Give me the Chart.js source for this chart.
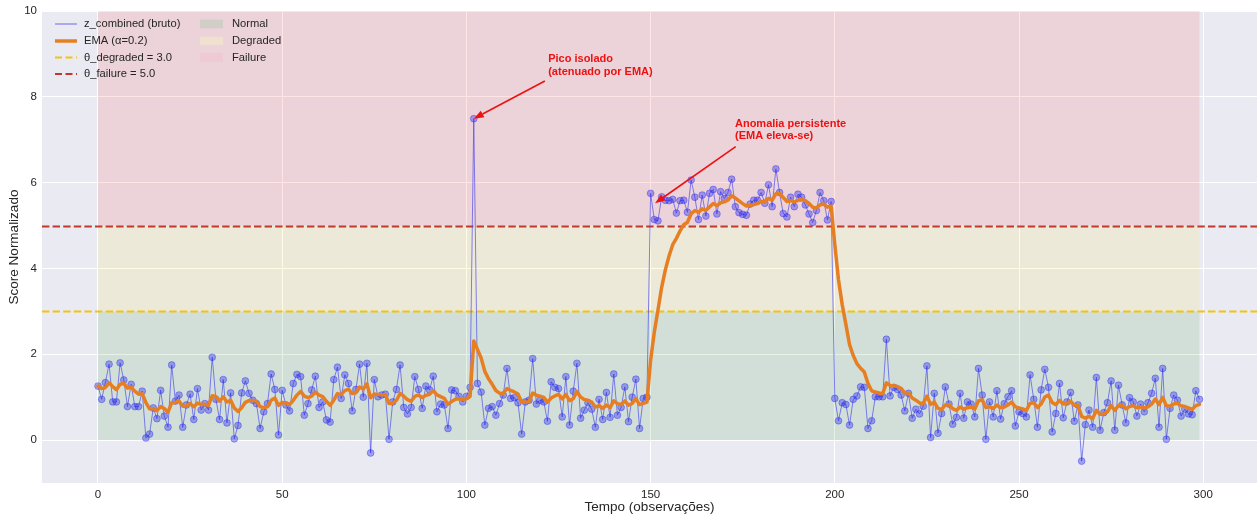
<!DOCTYPE html>
<html>
<head>
<meta charset="utf-8">
<script src="https://cdn.jsdelivr.net/npm/chart.js@4.4.1/dist/chart.umd.min.js"></script>
<style>
  html, body { margin: 0; padding: 0; background: #ffffff; }
  canvas { display: block; }
</style>
</head>
<body>
<canvas id="chart" width="1257" height="516"></canvas>
<script>
// Raw combined score per observation (t = 0 .. 299)
const rawScore = [
  1.26, 0.95, 1.34, 1.77, 0.89, 0.89, 1.80, 1.40, 0.78, 1.30, 0.78, 0.78, 1.14, 0.05, 0.14, 0.75, 0.50, 1.16, 0.56, 0.30,
  1.75, 0.91, 1.05, 0.30, 0.82, 1.07, 0.48, 1.20, 0.70, 0.85, 0.70, 1.93, 0.95, 0.48, 1.41, 0.40, 1.10, 0.03, 0.34, 1.10,
  1.38, 1.09, 0.93, 0.85, 0.27, 0.66, 0.85, 1.54, 1.18, 0.12, 1.16, 0.82, 0.68, 1.32, 1.53, 1.48, 0.58, 0.85, 1.17, 1.49,
  0.76, 0.89, 0.47, 0.42, 1.41, 1.70, 0.97, 1.52, 1.32, 0.68, 1.18, 1.77, 1.00, 1.79, -0.30, 1.41, 1.01, 1.05, 1.07, 0.02,
  0.89, 1.18, 1.75, 0.76, 0.61, 0.76, 1.48, 1.18, 0.74, 1.26, 1.17, 1.49, 0.66, 0.84, 0.82, 0.27, 1.17, 1.15, 1.02, 0.89,
  1.02, 1.23, 7.49, 1.32, 1.12, 0.35, 0.74, 0.78, 0.58, 0.85, 1.05, 1.67, 0.97, 0.99, 0.87, 0.14, 0.89, 0.93, 1.90, 0.84,
  0.93, 0.89, 0.44, 1.36, 1.23, 1.20, 0.54, 1.48, 0.35, 1.14, 1.79, 0.51, 0.70, 0.87, 0.72, 0.30, 0.95, 0.48, 1.11, 0.53,
  1.54, 0.58, 0.76, 1.24, 0.43, 1.00, 1.42, 0.27, 0.97, 1.00, 5.75, 5.14, 5.11, 5.67, 5.59, 5.58, 5.61, 5.29, 5.58, 5.59,
  5.31, 6.06, 5.66, 5.14, 5.71, 5.22, 5.75, 5.84, 5.27, 5.79, 5.63, 5.77, 6.08, 5.44, 5.30, 5.26, 5.24, 5.50, 5.59, 5.59,
  5.77, 5.52, 5.95, 5.44, 6.32, 5.77, 5.28, 5.20, 5.66, 5.44, 5.73, 5.66, 5.48, 5.27, 5.07, 5.35, 5.77, 5.58, 5.13, 5.56,
  0.97, 0.45, 0.87, 0.83, 0.35, 0.95, 1.03, 1.24, 1.23, 0.27, 0.45, 1.01, 1.01, 1.01, 2.35, 1.03, 1.23, 1.18, 1.05, 0.68,
  1.09, 0.51, 0.72, 0.61, 0.79, 1.73, 0.06, 1.09, 0.16, 0.62, 1.24, 0.84, 0.37, 0.53, 1.09, 0.51, 0.89, 0.84, 0.54, 1.67,
  1.05, 0.02, 0.89, 0.54, 1.15, 0.49, 0.85, 1.01, 1.15, 0.33, 0.66, 0.62, 0.54, 1.52, 0.95, 0.30, 1.17, 1.65, 1.23, 0.19,
  0.62, 1.32, 0.52, 0.89, 1.11, 0.44, 0.82, -0.49, 0.36, 0.70, 0.30, 1.46, 0.23, 0.64, 0.87, 1.38, 0.23, 1.28, 0.82, 0.40,
  0.99, 0.89, 0.56, 0.84, 0.66, 0.87, 1.09, 1.44, 0.30, 1.67, 0.02, 0.74, 1.05, 0.93, 0.56, 0.72, 0.61, 0.59, 1.15, 0.95
];

// Smoothing factor and decision thresholds
const emaAlpha = 0.2;
const thetaDegraded = 3.0;
const thetaFailure = 5.0;

// Operating zones (lower / upper score)
const zoneNames = ['Normal', 'Degraded', 'Failure'];
const zoneLower = [0, thetaDegraded, thetaFailure];
const zoneUpper = [thetaDegraded, thetaFailure, 10];

// Tick labels
const xTicks = [0, 50, 100, 150, 200, 250, 300];
const yTicks = [0, 2, 4, 6, 8, 10];

// Callouts: [t, score] of the label, arrow tail and arrow head
const calloutText = [['Pico isolado', '(atenuado por EMA)'], ['Anomalia persistente', '(EMA eleva-se)']];
const calloutLabelAt = [[122.2, 9.0], [172.9, 7.5]];
const calloutTail = [[121.3, 8.37], [173.1, 6.84]];
const calloutHead = [[102, 7.49], [151.2, 5.52]];

// Exponential moving average of the raw score
const emaScore = [];
rawScore.forEach((v, i) => {
  emaScore.push(i === 0 ? v : emaAlpha * v + (1 - emaAlpha) * emaScore[i - 1]);
});

const tempo = rawScore.map((_, i) => i);

// ---- styles ----
const FONT = '"Liberation Sans", Arial, Helvetica, sans-serif';
const TEXT = '#262626';
const zoneFill = ['rgba(0,128,0,0.10)', 'rgba(255,230,0,0.10)', 'rgba(255,0,0,0.10)'];
const zoneSwatch = ['rgba(205,205,195,0.9)', 'rgba(240,225,205,0.9)', 'rgba(240,200,210,0.9)'];
const RAW_LINE = 'rgba(60,60,235,0.62)';
const RAW_DOT = 'rgba(40,40,240,0.38)';
const EMA_COLOR = '#e67e22';
const DEG_COLOR = '#f1c40f';
const FAIL_COLOR = '#c0392b';
const ARROW = '#ee1111';

const zonesAndThresholds = {
  id: 'zonesAndThresholds',
  beforeDraw(chart) {
    const { ctx, chartArea: a } = chart;
    ctx.save();
    ctx.fillStyle = '#eaeaf2';
    ctx.fillRect(a.left, a.top, a.right - a.left, a.bottom - a.top);
    ctx.restore();
  },
  beforeDatasetsDraw(chart) {
    const { ctx, chartArea: a, scales: { x, y } } = chart;
    ctx.save();
    ctx.beginPath();
    ctx.rect(a.left, a.top, a.right - a.left, a.bottom - a.top);
    ctx.clip();
    const x0 = x.getPixelForValue(tempo[0]);
    const x1 = x.getPixelForValue(tempo[tempo.length - 1]);
    zoneNames.forEach((_, k) => {
      const yTop = y.getPixelForValue(zoneUpper[k]);
      const yBot = y.getPixelForValue(zoneLower[k]);
      ctx.fillStyle = zoneFill[k];
      ctx.fillRect(x0, yTop, x1 - x0, yBot - yTop);
    });
    [[thetaDegraded, DEG_COLOR], [thetaFailure, FAIL_COLOR]].forEach(([v, c]) => {
      const py = Math.round(y.getPixelForValue(v)) + 0.5;
      ctx.strokeStyle = c;
      ctx.lineWidth = 2;
      ctx.setLineDash([7.4, 3.2]);
      ctx.beginPath();
      ctx.moveTo(a.left, py);
      ctx.lineTo(a.right, py);
      ctx.stroke();
    });
    ctx.restore();
  }
};

const callouts = {
  id: 'callouts',
  afterDatasetsDraw(chart) {
    const { ctx, scales: { x, y } } = chart;
    ctx.save();
    calloutText.forEach((lines, k) => {
      const tx = x.getPixelForValue(calloutTail[k][0]);
      const ty = y.getPixelForValue(calloutTail[k][1]);
      const hx = x.getPixelForValue(calloutHead[k][0]);
      const hy = y.getPixelForValue(calloutHead[k][1]);
      const ang = Math.atan2(hy - ty, hx - tx);
      const len = 10, half = 3.8;
      const bx = hx - len * Math.cos(ang), by = hy - len * Math.sin(ang);
      ctx.strokeStyle = ARROW;
      ctx.fillStyle = ARROW;
      ctx.lineWidth = 1.6;
      ctx.beginPath();
      ctx.moveTo(tx, ty);
      ctx.lineTo(bx, by);
      ctx.stroke();
      ctx.beginPath();
      ctx.moveTo(hx, hy);
      ctx.lineTo(bx + half * Math.sin(ang), by - half * Math.cos(ang));
      ctx.lineTo(bx - half * Math.sin(ang), by + half * Math.cos(ang));
      ctx.closePath();
      ctx.fill();

      const lx = x.getPixelForValue(calloutLabelAt[k][0]);
      const ly = y.getPixelForValue(calloutLabelAt[k][1]);
      ctx.font = 'bold 11px ' + FONT;
      ctx.textAlign = 'left';
      ctx.textBaseline = 'top';
      lines.forEach((s, j) => ctx.fillText(s, lx, ly + j * 12.5));
    });
    ctx.restore();
  }
};

const legendBox = {
  id: 'legendBox',
  afterDraw(chart) {
    const { ctx, chartArea: a } = chart;
    ctx.save();
    ctx.font = '11.2px ' + FONT;
    ctx.fillStyle = TEXT;
    ctx.textBaseline = 'middle';
    ctx.textAlign = 'left';
    const rows = [a.top + 13, a.top + 30, a.top + 46.5, a.top + 63];
    const hx0 = a.left + 13, hx1 = a.left + 35, tx = a.left + 42;
    const items = [
      ['z_combined (bruto)', RAW_LINE, 1.2, []],
      ['EMA (\u03b1=0.2)', EMA_COLOR, 3.5, []],
      ['\u03b8_degraded = 3.0', DEG_COLOR, 2, [7, 3.5]],
      ['\u03b8_failure = 5.0', FAIL_COLOR, 2, [7, 3.5]]
    ];
    items.forEach(([label, c, w, dash], i) => {
      ctx.strokeStyle = c;
      ctx.lineWidth = w;
      ctx.setLineDash(dash);
      ctx.beginPath();
      ctx.moveTo(hx0, rows[i]);
      ctx.lineTo(hx1, rows[i]);
      ctx.stroke();
      ctx.fillStyle = TEXT;
      ctx.fillText(label, tx, rows[i]);
    });
    ctx.setLineDash([]);
    const px0 = a.left + 158, pw = 23, ph = 8.5, ptx = a.left + 190;
    zoneNames.forEach((name, k) => {
      ctx.fillStyle = zoneSwatch[k];
      ctx.fillRect(px0, rows[k] - ph / 2, pw, ph);
      ctx.fillStyle = TEXT;
      ctx.fillText(name, ptx, rows[k]);
    });
    ctx.restore();
  }
};

new Chart(document.getElementById('chart'), {
  type: 'line',
  data: {
    datasets: [
      {
        label: 'z_combined (bruto)',
        data: tempo.map((t, i) => ({ x: t, y: rawScore[i] })),
        borderColor: RAW_LINE,
        borderWidth: 1,
        pointRadius: 3.4,
        pointBackgroundColor: RAW_DOT,
        pointBorderColor: RAW_DOT,
        pointBorderWidth: 1,
        tension: 0,
        order: 2
      },
      {
        label: 'EMA (\u03b1=0.2)',
        data: tempo.map((t, i) => ({ x: t, y: emaScore[i] })),
        borderColor: EMA_COLOR,
        borderWidth: 3.5,
        pointRadius: 0,
        tension: 0,
        borderJoinStyle: 'round',
        borderCapStyle: 'round',
        order: 1
      }
    ]
  },
  options: {
    responsive: false,
    animation: false,
    events: [],
    layout: { autoPadding: false, padding: { top: 11, right: 0, left: 0, bottom: 0 } },
    plugins: { legend: { display: false }, tooltip: { enabled: false } },
    scales: {
      x: {
        type: 'linear',
        min: -15.2,
        max: 314.6,
        afterBuildTicks: s => { s.ticks = xTicks.map(v => ({ value: v })); },
        afterFit: s => { s.height = 33; s.paddingLeft = 0; s.paddingRight = 0; },
        grid: { color: '#ffffff', lineWidth: 1, drawTicks: false },
        border: { display: false },
        ticks: { color: TEXT, font: { family: FONT, size: 11.5 }, padding: 5, maxRotation: 0, autoSkip: false },
        title: { display: true, text: 'Tempo (observações)', color: TEXT, font: { family: FONT, size: 13.5 }, padding: { top: 0, bottom: 1 } }
      },
      y: {
        min: -1,
        max: 10,
        afterBuildTicks: s => { s.ticks = yTicks.map(v => ({ value: v })); },
        afterFit: s => { s.width = 42; s.paddingTop = 0; s.paddingBottom = 0; },
        grid: { color: '#ffffff', lineWidth: 1, drawTicks: false },
        border: { display: false },
        ticks: { color: TEXT, font: { family: FONT, size: 11.5 }, padding: 5 },
        title: { display: true, text: 'Score Normalizado', color: TEXT, font: { family: FONT, size: 13.5 }, padding: { top: 6, bottom: 0 } }
      }
    }
  },
  plugins: [zonesAndThresholds, callouts, legendBox]
});
</script>
</body>
</html>
